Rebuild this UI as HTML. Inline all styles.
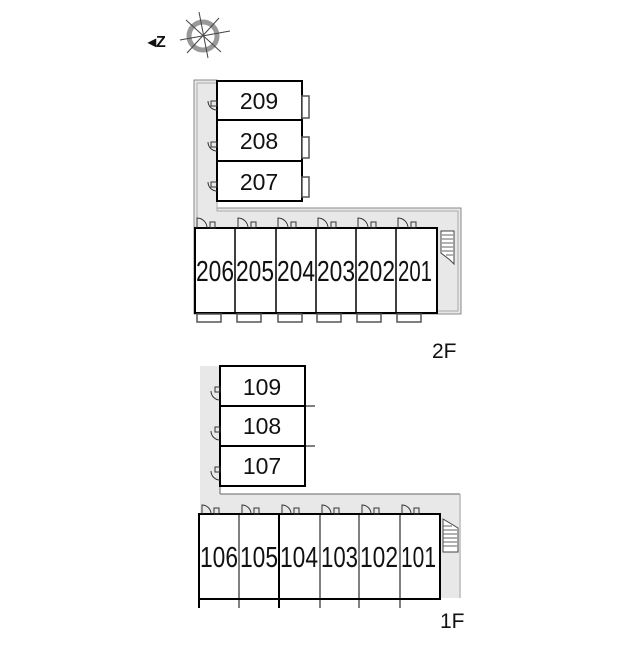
<!DOCTYPE html>
<html><head><meta charset="utf-8"><style>
html,body{margin:0;padding:0;background:#fff;}
svg text{font-family:"Liberation Sans",sans-serif;fill:#111;}
</style></head><body>
<svg width="640" height="640" viewBox="0 0 640 640" xmlns="http://www.w3.org/2000/svg">
<g stroke="#444" fill="none">
<circle cx="203" cy="36" r="14" stroke="#999" stroke-width="5"/>
<line x1="199" y1="12" x2="208" y2="58" stroke-width="1"/>
<line x1="180" y1="40" x2="230" y2="31" stroke-width="1"/>
<line x1="186" y1="20" x2="221" y2="52" stroke-width="1"/>
<line x1="219" y1="18" x2="187" y2="53" stroke-width="1"/>
</g>
<text x="148" y="47" font-size="16" font-weight="bold">◂Z</text>

<!-- ===== 2F ===== -->
<path d="M194,80 H217 V208 H461 V314 H194 Z" fill="#e8e8e8" stroke="#888" stroke-width="1"/>
<path d="M197,83 H217 V211 H458 V311 H197 Z" fill="none" stroke="#aaa" stroke-width="1"/>
<rect x="217" y="81" width="85" height="120" fill="#fff" stroke="#000" stroke-width="2"/>
<line x1="217" y1="120" x2="302" y2="120" stroke="#000" stroke-width="2"/>
<line x1="217" y1="161" x2="302" y2="161" stroke="#000" stroke-width="2"/>
<g fill="#fff" stroke="#555" stroke-width="1.5">
<rect x="302" y="96" width="7" height="22"/><rect x="302" y="137" width="7" height="21"/><rect x="302" y="177" width="7" height="20"/>
</g>
<g fill="none" stroke="#333" stroke-width="1">
<path d="M217,110 A9,9 0 0 1 208,101 "/><rect x="211" y="101" width="6" height="5"/>
<path d="M217,151 A9,9 0 0 1 208,142 "/><rect x="211" y="142" width="6" height="5"/>
<path d="M217,191 A9,9 0 0 1 208,182 "/><rect x="211" y="182" width="6" height="5"/>
</g>
<g font-size="23" text-anchor="middle">
<text x="259" y="109">209</text><text x="259" y="149">208</text><text x="259" y="190">207</text>
</g>
<rect x="195" y="228" width="242" height="85" fill="#fff" stroke="#000" stroke-width="2"/>
<g stroke="#000" stroke-width="1.5">
<line x1="235" y1="228" x2="235" y2="313"/><line x1="276" y1="228" x2="276" y2="313"/>
<line x1="316" y1="228" x2="316" y2="313"/><line x1="356" y1="228" x2="356" y2="313"/>
<line x1="396" y1="228" x2="396" y2="313"/>
</g>
<g fill="none" stroke="#333" stroke-width="1">
<path d="M197,228 V218 A10,10 0 0 1 207,228"/><rect x="210" y="222" width="5" height="6"/>
<path d="M238,228 V218 A10,10 0 0 1 248,228"/><rect x="251" y="222" width="5" height="6"/>
<path d="M278,228 V218 A10,10 0 0 1 288,228"/><rect x="291" y="222" width="5" height="6"/>
<path d="M318,228 V218 A10,10 0 0 1 328,228"/><rect x="331" y="222" width="5" height="6"/>
<path d="M358,228 V218 A10,10 0 0 1 368,228"/><rect x="371" y="222" width="5" height="6"/>
<path d="M398,228 V218 A10,10 0 0 1 408,228"/><rect x="411" y="222" width="5" height="6"/>
</g>
<g fill="#fff" stroke="#555" stroke-width="1.5">
<rect x="197" y="314" width="24" height="8"/><rect x="237" y="314" width="24" height="8"/>
<rect x="278" y="314" width="24" height="8"/><rect x="317" y="314" width="24" height="8"/>
<rect x="357" y="314" width="24" height="8"/><rect x="397" y="314" width="24" height="8"/>
</g>
<g font-size="29">
<text x="196" y="281" textLength="38" lengthAdjust="spacingAndGlyphs">206</text>
<text x="236" y="281" textLength="38" lengthAdjust="spacingAndGlyphs">205</text>
<text x="277" y="281" textLength="38" lengthAdjust="spacingAndGlyphs">204</text>
<text x="317" y="281" textLength="38" lengthAdjust="spacingAndGlyphs">203</text>
<text x="357" y="281" textLength="38" lengthAdjust="spacingAndGlyphs">202</text>
<text x="398" y="281" textLength="34" lengthAdjust="spacingAndGlyphs">201</text>
</g>
<path d="M441,231 H454 V264 L450,260 L441,253 Z" fill="#fff" stroke="#444" stroke-width="1"/>
<g stroke="#666" stroke-width="1">
<line x1="442" y1="235" x2="453" y2="235"/><line x1="442" y1="239" x2="453" y2="239"/>
<line x1="442" y1="243" x2="453" y2="243"/><line x1="442" y1="247" x2="453" y2="247"/>
<line x1="442" y1="251" x2="453" y2="251"/><line x1="446" y1="255" x2="453" y2="255"/>
</g>
<text x="432" y="358" font-size="21">2F</text>

<!-- ===== 1F ===== -->
<path d="M200,366 H220 V494 H461 V598 H200 Z" fill="#e8e8e8"/>
<line x1="220" y1="486" x2="220" y2="494" stroke="#666"/>
<line x1="220" y1="494" x2="460" y2="494" stroke="#666" stroke-width="1"/>
<line x1="460" y1="494" x2="460" y2="598" stroke="#aaa" stroke-width="1"/>
<rect x="220" y="366" width="85" height="120" fill="#fff" stroke="#000" stroke-width="2"/>
<line x1="220" y1="406" x2="305" y2="406" stroke="#000" stroke-width="2"/>
<line x1="220" y1="446" x2="305" y2="446" stroke="#000" stroke-width="2"/>
<line x1="305" y1="406" x2="315" y2="406" stroke="#000" stroke-width="1"/>
<line x1="305" y1="446" x2="315" y2="446" stroke="#000" stroke-width="1"/>
<g fill="none" stroke="#333" stroke-width="1">
<path d="M220,400 A9,9 0 0 1 211,391"/><rect x="215" y="387" width="5" height="5"/>
<path d="M220,440 A9,9 0 0 1 211,431"/><rect x="215" y="427" width="5" height="5"/>
<path d="M220,480 A9,9 0 0 1 211,471"/><rect x="215" y="467" width="5" height="5"/>
</g>
<g font-size="23" text-anchor="middle">
<text x="262" y="395">109</text><text x="262" y="434">108</text><text x="262" y="474">107</text>
</g>
<rect x="199" y="514" width="241" height="85" fill="#fff" stroke="#000" stroke-width="2"/>
<g stroke="#000" stroke-width="1">
<line x1="239" y1="514" x2="239" y2="608"/><line x1="279" y1="514" x2="279" y2="608" stroke-width="2"/>
<line x1="320" y1="514" x2="320" y2="608"/><line x1="359" y1="514" x2="359" y2="608"/>
<line x1="400" y1="514" x2="400" y2="608"/><line x1="199" y1="599" x2="199" y2="608" stroke-width="2"/>
</g>
<g fill="none" stroke="#333" stroke-width="1">
<path d="M202,514 V505 A9,9 0 0 1 211,514"/><rect x="214" y="508" width="5" height="6"/>
<path d="M242,514 V505 A9,9 0 0 1 251,514"/><rect x="254" y="508" width="5" height="6"/>
<path d="M282,514 V505 A9,9 0 0 1 291,514"/><rect x="294" y="508" width="5" height="6"/>
<path d="M322,514 V505 A9,9 0 0 1 331,514"/><rect x="334" y="508" width="5" height="6"/>
<path d="M362,514 V505 A9,9 0 0 1 371,514"/><rect x="374" y="508" width="5" height="6"/>
<path d="M402,514 V505 A9,9 0 0 1 411,514"/><rect x="414" y="508" width="5" height="6"/>
</g>
<g font-size="29">
<text x="200" y="567" textLength="38" lengthAdjust="spacingAndGlyphs">106</text>
<text x="240" y="567" textLength="38" lengthAdjust="spacingAndGlyphs">105</text>
<text x="280" y="567" textLength="38" lengthAdjust="spacingAndGlyphs">104</text>
<text x="321" y="567" textLength="37" lengthAdjust="spacingAndGlyphs">103</text>
<text x="360" y="567" textLength="38" lengthAdjust="spacingAndGlyphs">102</text>
<text x="401" y="567" textLength="35" lengthAdjust="spacingAndGlyphs">101</text>
</g>
<path d="M443,519 V552 H458 V528 Z" fill="#fff" stroke="#444" stroke-width="1"/>
<g stroke="#666" stroke-width="1">
<line x1="443" y1="526" x2="452" y2="526"/><line x1="443" y1="530" x2="457" y2="530"/>
<line x1="443" y1="534" x2="457" y2="534"/><line x1="443" y1="538" x2="457" y2="538"/>
<line x1="443" y1="542" x2="457" y2="542"/><line x1="443" y1="546" x2="457" y2="546"/>
</g>
<text x="440" y="628" font-size="21">1F</text>
</svg>
</body></html>
